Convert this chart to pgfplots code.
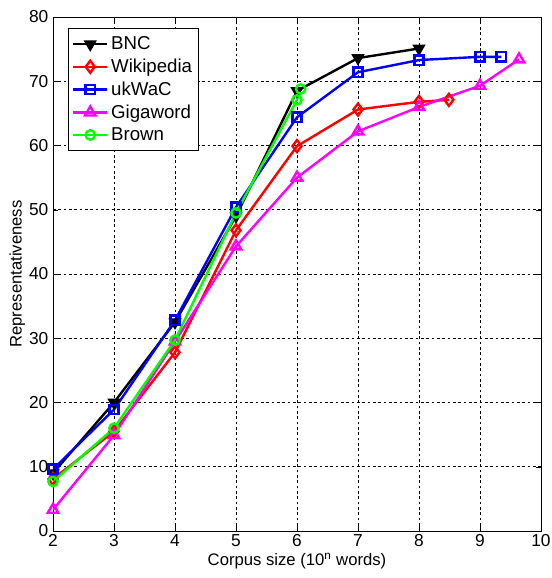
\documentclass[border=0pt]{standalone}
\usepackage{fontspec}
\setmainfont{Liberation Sans}
\usepackage{pgfplots}
\pgfplotsset{compat=1.18}
\definecolor{mGreen}{RGB}{0,255,0}
\definecolor{mMag}{RGB}{255,0,255}
\begin{document}
\begin{tikzpicture}
\begin{axis}[
  scale only axis, width=366pt, height=385.5pt,
  xmin=2, xmax=10, ymin=0, ymax=80,
  xtick={2,...,10}, ytick={0,10,...,80},
  grid=major, grid style={black, dash pattern=on 2pt off 2pt, line width=0.5pt},
  tick align=inside, major tick length=4pt,
  axis line style={black, line width=0.6pt},
  tick style={black},
  /pgf/number format/assume math mode=true,
  ticklabel style={font=\fontsize{13}{15}\selectfont},
  xticklabel style={yshift=1pt},
  label style={font=\fontsize{12.5}{15}\selectfont},
  xlabel={Corpus size (10\textsuperscript{n} words)},
  ylabel={Representativeness},
  xlabel style={yshift=2pt}, ylabel style={yshift=-4pt},
  legend style={at={(0.03,0.978)}, anchor=north west, font=\fontsize{14}{17}\selectfont,
    draw=black, line width=0.5pt, inner xsep=3pt, inner ysep=4pt, row sep=1.5pt},
  legend image code/.code={\draw[mark repeat=2,mark phase=2]
    plot coordinates {(0cm,0cm) (0.45cm,0cm) (0.9cm,0cm)};},
  legend image post style={line width=1.8pt},
  legend cell align=left,
  every axis plot/.append style={line width=1.8pt, mark size=4pt},
]
\addplot[black, mark=triangle*, mark options={rotate=180, fill=black}] coordinates
  {(2,9.0) (3,20.0) (4,32.5) (5,49.0) (6,68.5) (7,73.6) (8,75.1)};
\addplot[red, mark=diamond, mark size=4.5pt] coordinates
  {(2,8.1) (3,15.5) (4,27.8) (5,46.8) (6,59.9) (7,65.6) (8,66.8) (8.49,67.1)};
\addplot[blue, mark=square, mark size=3.5pt] coordinates
  {(2,9.6) (3,18.9) (4,32.8) (5,50.4) (6,64.4) (7,71.4) (8,73.3) (9,73.8) (9.35,73.8)};
\addplot[mMag, mark=triangle, mark size=4.5pt] coordinates
  {(2,3.3) (3,14.9) (4,29.5) (5,44.3) (6,55.0) (7,62.2) (8,66.0) (9,69.3) (9.64,73.4)};
\addplot[mGreen, mark=o, mark size=3.5pt] coordinates
  {(2,7.7) (3,16.0) (4,29.7) (5,49.5) (6.0,67.1) (6.06,68.8)};
\legend{BNC,Wikipedia,ukWaC,Gigaword,Brown}
\end{axis}
\pgfresetboundingbox
\path (current axis.south west) ++(-39.75pt,-35.25pt) coordinate (bbA);
\path (current axis.north east) ++(8.25pt,12.75pt) coordinate (bbB);
\useasboundingbox (bbA) rectangle (bbB);
\end{tikzpicture}
\end{document}
